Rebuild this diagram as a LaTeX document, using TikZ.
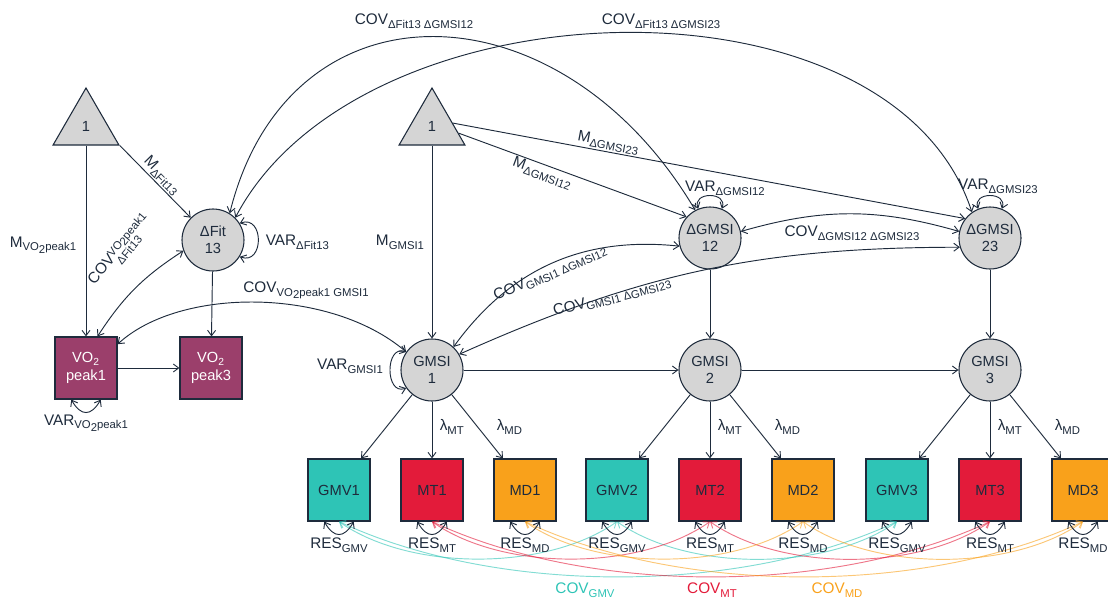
\documentclass[tikz,border=0pt]{standalone}
\usepackage{fontspec}
\setmainfont{Liberation Sans}
\usetikzlibrary{shapes.geometric,arrows.meta}
\definecolor{ink}{HTML}{1E2B3C}
\definecolor{nodegray}{HTML}{D5D5D5}
\definecolor{gmvc}{HTML}{2EC4B6}
\definecolor{mtc}{HTML}{E31B3A}
\definecolor{mdc}{HTML}{F9A11B}
\definecolor{voc}{HTML}{9B3F6B}
\newcommand{\lsub}[1]{\raisebox{-0.45ex}{\fontsize{8.5}{10}\selectfont #1}}
\newcommand{\subtwo}{\raisebox{-0.35ex}{2}}
\tikzset{
	lat/.style={circle,draw=ink,fill=nodegray,line width=0.8pt,minimum size=46.5pt,inner sep=0pt,align=center,font=\fontsize{11}{13}\selectfont,text=ink},
	obs/.style={rectangle,draw=ink,line width=0.9pt,minimum size=46.5pt,inner sep=0pt,align=center,font=\fontsize{11}{13}\selectfont,text=ink},
	one/.style={regular polygon,regular polygon sides=3,draw=ink,fill=nodegray,line width=0.8pt,minimum size=57pt,inner sep=0pt,font=\fontsize{11}{13}\selectfont,text=ink},
	lbl/.style={font=\fontsize{11.5}{13}\selectfont,text=ink,inner sep=1pt},
	rescov/.style={<->,line width=0.7pt,opacity=0.6}
}
\begin{document}
\begin{tikzpicture}[x=0.75pt,y=0.75pt,color=ink,line width=0.7pt,>={Straight Barb[length=4pt,width=6pt]}]
	\useasboundingbox (0,0) rectangle (1108,-601);
	\node[one] (tl) at (86,-126) {1};
	\node[one] (tr) at (432,-126) {1};
	\node[lat] (dfit) at (213,-240) {ΔFit\\13};
	\node[obs,fill=voc,text=white] (vo1) at (86,-368) {VO\textsubscript{2}\\peak1};
	\node[obs,fill=voc,text=white] (vo3) at (211,-368) {VO\textsubscript{2}\\peak3};
	\node[lat] (g1) at (432,-370) {GMSI\\1};
	\node[lat] (g2) at (710,-370) {GMSI\\2};
	\node[lat] (g3) at (990,-370) {GMSI\\3};
	\node[lat] (d12) at (710,-238) {ΔGMSI\\12};
	\node[lat] (d23) at (990,-238) {ΔGMSI\\23};
	\draw[->] (tl.-90) -- (vo1);
	\draw[->] (tl.-30) -- node[lbl,sloped,above] (lmfit) {M\lsub{ΔFit13}} (dfit.135);
	\draw[->] (dfit) -- (vo3);
	\draw[->] (vo1) -- (vo3);
	\draw[<->] (vo1.70) to[bend left=12] (dfit.200);
	\draw[<->] (vo1.37) .. controls (180,-287) and (330,-287) .. (g1.145);
	\draw[<->] (dfit.32) to[out=20,in=-20,looseness=2] (dfit.-32);
	\draw[<->] (vo1.-115) to[out=-60,in=-120,looseness=1.7] (vo1.-65);
	\draw[<->] (dfit.58) .. controls (289,25) and (560,18) .. (d12.118);
	\draw[<->] (dfit.45) .. controls (360,20) and (891,36) .. (d23.125);
	\draw[->] (tr.-90) -- (g1);
	\draw[->] (tr.-15) -- node[lbl,sloped,below,pos=0.38] (lmd12) {M\lsub{ΔGMSI12}} (d12.138);
	\draw[->] (tr.8) -- node[lbl,sloped,above,pos=0.3] (lmd23) {M\lsub{ΔGMSI23}} (d23.142);
	\draw[<->] (g1.145) to[out=160,in=200,looseness=1.6] (g1.215);
	\draw[<->] (d12.112) to[out=110,in=70,looseness=2] (d12.68);
	\draw[<->] (d23.112) to[out=110,in=70,looseness=2] (d23.68);
	\draw[<->] (d12.12) to[bend left=16] (d23.168);
	\draw[<->] (g1.47) to[bend left=30] (d12.195);
	\draw[<->] (g1.30) to[bend left=12] (d23.197);
	\draw[->] (d12) -- (g2);
	\draw[->] (d23) -- (g3);
	\draw[->] (g1) -- (g2);
	\draw[->] (g2) -- (g3);
	\node[lbl] (lmvo) at (43,-245) {M\lsub{VO\subtwo peak1}};
	\node[lbl,anchor=west] (lvfit) at (264,-242) {VAR\lsub{ΔFit13}};
	\node[lbl] (lvvo) at (86,-423) {VAR\lsub{VO\subtwo peak1}};
	\node[lbl,rotate=50] (lcvf) at (122,-252) {COV\raisebox{-0.3ex}{\fontsize{8.5}{9}\selectfont\begin{tabular}{@{}l@{}}VO\subtwo peak1\\ΔFit13\end{tabular}}};
	\node[lbl] (lcvg) at (306,-290) {COV\lsub{VO\subtwo peak1 GMSI1}};
	\node[lbl] (lvg1) at (350,-366) {VAR\lsub{GMSI1}};
	\node[lbl] (lmg1) at (400,-242) {M\lsub{GMSI1}};
	\node[lbl] (lcf12) at (414,-21) {COV\lsub{ΔFit13 ΔGMSI12}};
	\node[lbl] (lcf23) at (661,-21) {COV\lsub{ΔFit13 ΔGMSI23}};
	\node[lbl] (lv12) at (725,-188) {VAR\lsub{ΔGMSI12}};
	\node[lbl] (lv23) at (998,-186) {VAR\lsub{ΔGMSI23}};
	\node[lbl] (lc1223) at (852,-233) {COV\lsub{ΔGMSI12 ΔGMSI23}};
	\node[lbl,rotate=24] (lcg12) at (550,-273) {COV\lsub{GMSI1 ΔGMSI12}};
	\node[lbl,rotate=15] (lcg23) at (612,-297) {COV\lsub{GMSI1 ΔGMSI23}};
	\foreach \k/\x in {1/432,2/710,3/990}{
		\node[obs,fill=gmvc] (gmv\k) at (\x-93,-490) {GMV\k};
		\node[obs,fill=mtc] (mt\k) at (\x,-490) {MT\k};
		\node[obs,fill=mdc] (md\k) at (\x+93,-490) {MD\k};
		\draw[->] (g\k) -- (gmv\k.55);
		\draw[->] (g\k) -- (mt\k);
		\draw[->] (g\k) -- (md\k.125);
		\node[lbl,anchor=west] (lmt\k) at (\x+6,-427) {λ\lsub{MT}};
		\node[lbl,anchor=west] (lmd\k) at (\x+63,-427) {λ\lsub{MD}};
	}
	\foreach \m/\c in {gmv/gmvc,mt/mtc,md/mdc}{
		\draw[rescov,\c] (\m1.south) to[out=-35,in=-145,looseness=0.8] (\m2.south);
		\draw[rescov,\c] (\m2.south) to[out=-35,in=-145,looseness=0.8] (\m3.south);
		\draw[rescov,\c] (\m1.south) to[out=-25,in=-155,looseness=0.8] (\m3.south);
		\foreach \k in {1,2,3}{
			\draw[<->] (\m\k.-115) to[out=-60,in=-120,looseness=1.7] (\m\k.-65);
		}
	}
	\foreach \k/\x in {1/432,2/710,3/990}{
		\node[lbl] (lrg\k) at (\x-93,-545) {RES\lsub{GMV}};
		\node[lbl] (lrt\k) at (\x,-545) {RES\lsub{MT}};
		\node[lbl] (lrd\k) at (\x+93,-545) {RES\lsub{MD}};
	}
	\node[lbl,text=gmvc] (lcgmv) at (585,-590) {COV\lsub{GMV}};
	\node[lbl,text=mtc] (lcmt) at (712,-590) {COV\lsub{MT}};
	\node[lbl,text=mdc] (lcmd) at (837,-590) {COV\lsub{MD}};
\end{tikzpicture}
\end{document}
